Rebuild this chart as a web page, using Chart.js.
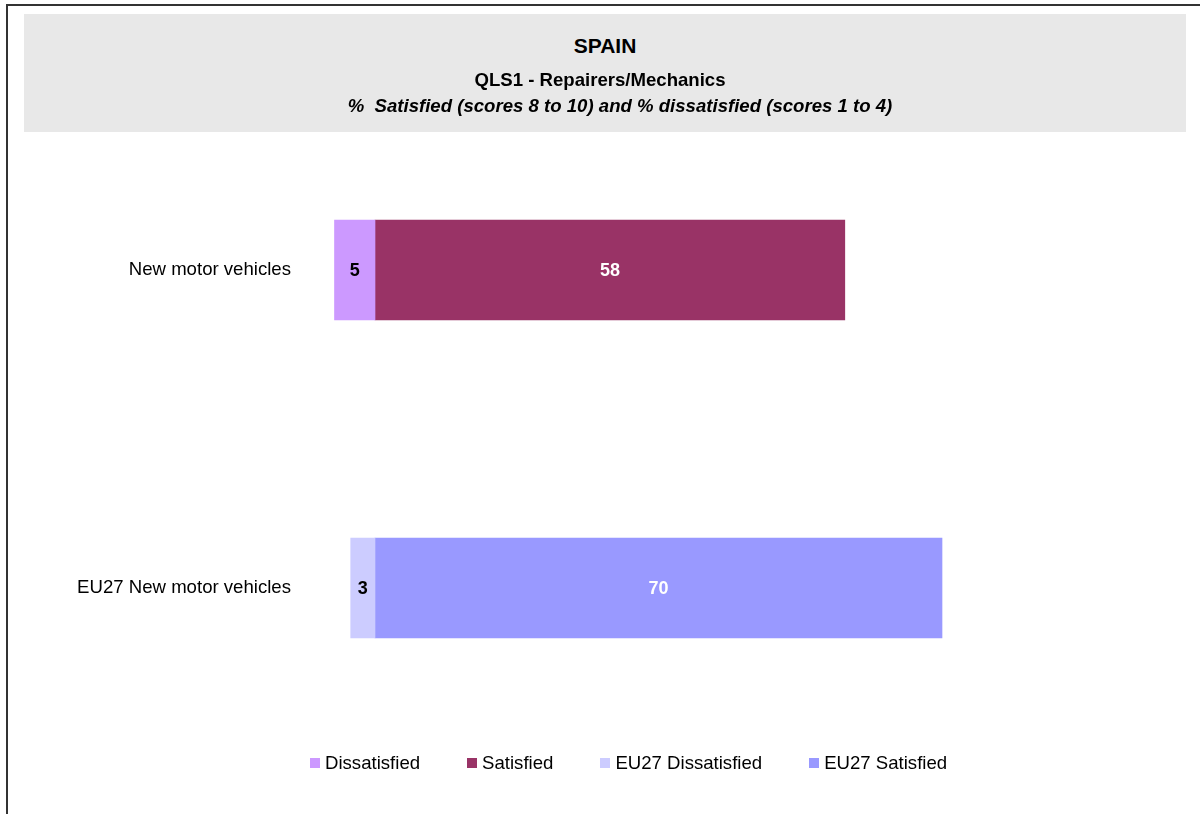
<!DOCTYPE html>
<html>
<head>
<meta charset="utf-8">
<script src="https://cdn.jsdelivr.net/npm/chart.js@4"></script>
<style>
body{margin:0;background:#fff;font-family:"Liberation Sans",Arial,sans-serif;}
#frame{position:absolute;left:6px;top:4px;width:1300px;height:900px;border-top:2px solid #333;border-left:2px solid #333;}
#titleBox{position:absolute;left:24px;top:14px;width:1162px;height:118px;background:#e8e8e8;}
#titleBox div{position:absolute;left:0;width:100%;text-align:center;color:#000;font-weight:bold;white-space:pre;}
#t1{top:20px;font-size:21px;line-height:24px;}
#t2{top:55px;font-size:18.6px;line-height:22px;}
#t3{top:81px;font-size:18.6px;line-height:22px;font-style:italic;}
#wrap{position:absolute;left:0;top:0;width:1200px;height:814px;}
#legend{position:absolute;left:310px;top:753px;display:flex;align-items:center;font-size:18.6px;line-height:20px;color:#000;white-space:nowrap;}
#legend .item{display:flex;align-items:center;margin-right:47px;}
#legend .box{width:10px;height:10px;margin-right:5px;}
</style>
</head>
<body>
<div id="wrap"><canvas id="chart" width="1200" height="814"></canvas></div>
<div id="frame"></div>
<div id="titleBox">
  <div id="t1">SPAIN</div>
  <div id="t2" style="left:-5px">QLS1 - Repairers/Mechanics</div>
  <div id="t3" style="left:15px">%  Satisfied (scores 8 to 10) and % dissatisfied (scores 1 to 4)</div>
</div>
<div id="legend"></div>
<script>
// DATA
const categories=['New motor vehicles','EU27 New motor vehicles'];
const dissatisfied=[5,null];
const satisfied=[58,null];
const eu27Dissatisfied=[null,3];
const eu27Satisfied=[null,70];

const neg=a=>a.map(v=>v==null?null:-v);

const datasets=[
  {label:'Dissatisfied',data:neg(dissatisfied),backgroundColor:'#cc99ff',labelColor:'#000'},
  {label:'Satisfied',data:satisfied,backgroundColor:'#993366',labelColor:'#fff'},
  {label:'EU27 Dissatisfied',data:neg(eu27Dissatisfied),backgroundColor:'#ccccff',labelColor:'#000'},
  {label:'EU27 Satisfied',data:eu27Satisfied,backgroundColor:'#9999ff',labelColor:'#fff'}
];

// value labels in the middle of each bar
const barLabels={
  id:'barLabels',
  afterDatasetsDraw(chart){
    const ctx=chart.ctx;
    ctx.save();
    ctx.font='bold 18px "Liberation Sans", Arial, sans-serif';
    ctx.textAlign='center';ctx.textBaseline='middle';
    chart.data.datasets.forEach((ds,i)=>{
      chart.getDatasetMeta(i).data.forEach((el,j)=>{
        const v=ds.data[j];
        if(v==null)return;
        const c=el.getCenterPoint();
        ctx.fillStyle=ds.labelColor;
        ctx.fillText(Math.abs(v),c.x,c.y+1);
      });
    });
    ctx.restore();
  }
};

new Chart(document.getElementById('chart'),{
  type:'bar',
  data:{labels:categories,datasets},
  options:{
    responsive:false,animation:false,indexAxis:'y',
    layout:{padding:{top:111,bottom:67,left:0,right:96}},
    plugins:{legend:{display:false},tooltip:{enabled:false}},
    datasets:{bar:{barThickness:100,borderWidth:0}},
    scales:{
      x:{stacked:true,display:false,min:-10,max:90},
      y:{stacked:true,grid:{display:false,drawTicks:false},border:{display:false},
        ticks:{color:'#000',font:{size:18.6,family:'"Liberation Sans", Arial, sans-serif'},padding:3},
        afterFit:s=>{s.width=294}}
    }
  },
  plugins:[barLabels]
});

// LEGEND
const lg=document.getElementById('legend');
datasets.forEach(d=>{
  const it=document.createElement('div');it.className='item';
  const b=document.createElement('span');b.className='box';b.style.background=d.backgroundColor;
  const t=document.createElement('span');t.textContent=d.label;
  it.appendChild(b);it.appendChild(t);lg.appendChild(it);
});
</script>
</body>
</html>
